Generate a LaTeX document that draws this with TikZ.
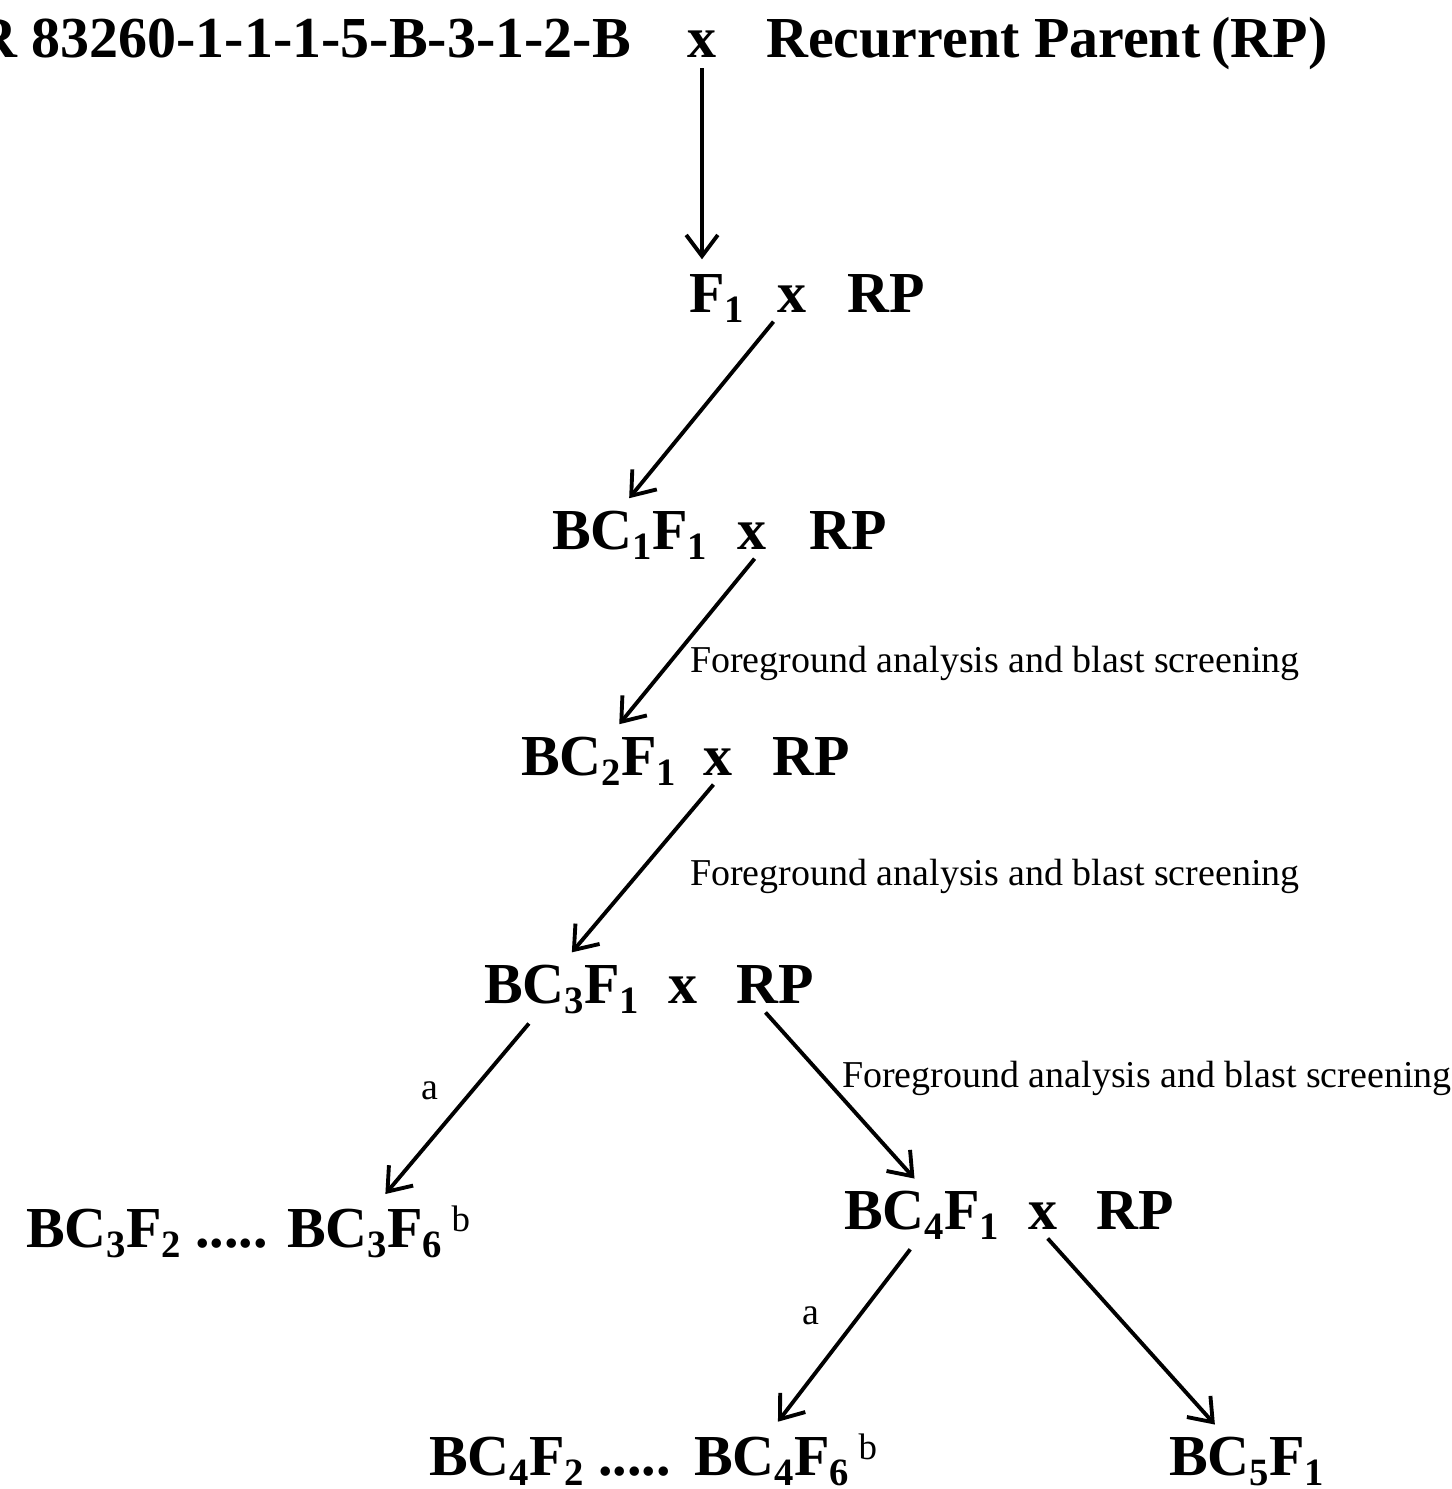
\documentclass[tikz,border=0pt]{standalone}
\usepackage{fontspec}
\setmainfont{Liberation Serif}
\usepackage{tikz}
\usetikzlibrary{positioning, arrows.meta, calc}
\newcommand{\sbs}[1]{\raisebox{-3pt}{\fontsize{11}{13}\selectfont #1}}
\newcommand{\spb}{\,\raisebox{4.3pt}{\normalfont\fontsize{10.5}{12}\selectfont b}}
\begin{document}
\begin{tikzpicture}
		\tikzstyle{gen} = [inner sep=1pt, font=\bfseries\fontsize{16.5}{19}\selectfont]
		\tikzstyle{note} = [inner sep=1pt, font=\fontsize{10.8}{13}\selectfont]
		\tikzstyle{barb} = [-{Straight Barb[length=6pt,width=9pt]}, line width=1.1pt, shorten <=2pt, shorten >=3pt]
		\useasboundingbox (0,0) rectangle (14.52,-14.89);
		% first cross
		\node [gen, anchor=base east] (v1) at (6.35,-0.57) {R 83260-1-1-1-5-B-3-1-2-B};
		\node [gen, anchor=base] (v2) at (7.02,-0.57) {x};
		\node [gen, anchor=base west] (v3) at (7.62,-0.57) {Recurrent Parent\hspace{-1pt} (RP)};
		% backcrosses
		\node [gen, anchor=base west] (v4) at (6.85,-3.12) {F\sbs{1}};
		\node [gen, anchor=base] (v5) at (7.92,-3.12) {x};
		\node [gen, anchor=base west] (v6) at (8.43,-3.12) {RP};
		\node [gen, anchor=base west] (v7) at (5.48,-5.49) {BC\sbs{1}F\sbs{1}};
		\node [gen, anchor=base] (v8) at (7.52,-5.49) {x};
		\node [gen, anchor=base west] (v9) at (8.05,-5.49) {RP};
		\node [gen, anchor=base west] (v10) at (5.17,-7.75) {BC\sbs{2}F\sbs{1}};
		\node [gen, anchor=base] (v11) at (7.18,-7.75) {x};
		\node [gen, anchor=base west] (v12) at (7.68,-7.75) {RP};
		\node [gen, anchor=base west] (v13) at (4.80,-10.03) {BC\sbs{3}F\sbs{1}};
		\node [gen, anchor=base] (v14) at (6.83,-10.03) {x};
		\node [gen, anchor=base west] (v15) at (7.32,-10.03) {RP};
		\node [gen, anchor=base west] (v16) at (0.22,-12.47) {BC\sbs{3}F\sbs{2} .....};
		\node [gen, anchor=base west] (v17) at (2.83,-12.47) {BC\sbs{3}F\sbs{6}\spb};
		\node [gen, anchor=base west] (v18) at (8.40,-12.29) {BC\sbs{4}F\sbs{1}};
		\node [gen, anchor=base] (v19) at (10.43,-12.29) {x};
		\node [gen, anchor=base west] (v20) at (10.92,-12.29) {RP};
		\node [gen, anchor=base west] (v21) at (4.25,-14.75) {BC\sbs{4}F\sbs{2} .....};
		\node [gen, anchor=base west] (v22) at (6.90,-14.75) {BC\sbs{4}F\sbs{6}\spb};
		\node [gen, anchor=base west] (v23) at (11.65,-14.75) {BC\sbs{5}F\sbs{1}};
		% arrows
		\draw [barb] (v2.south) -- (v2.south |- v4.north);
		\draw [barb] ([xshift=-4pt]v5.south) -- ([xshift=-2pt]v7.north);
		\draw [barb] ([xshift=2pt]v8.south) -- ([xshift=4pt]v10.north);
		\draw [barb] (v11.south) -- ([xshift=1pt]v13.north);
		\draw [barb] ([xshift=-8pt]v13.south) -- (v17.north);
		\draw [barb] ([xshift=-4pt]v15.south) -- (v18.north);
		\draw [barb] ([xshift=-2pt]v18.south) -- ([xshift=-4pt]v22.north);
		\draw [barb] (v19.south) -- ([xshift=-7pt]v23.north);
		% labels
		\node [note, anchor=base west] (v24) at (6.86,-6.72) {Foreground analysis and blast screening};
		\node [note, anchor=base west] (v25) at (6.86,-8.85) {Foreground analysis and blast screening};
		\node [note, anchor=base west] (v26) at (8.38,-10.87) {Foreground analysis and blast screening};
		\node [note] (v27) at (4.30,-10.91) {a};
		\node [note] (v28) at (8.11,-13.16) {a};
\end{tikzpicture}
\end{document}
